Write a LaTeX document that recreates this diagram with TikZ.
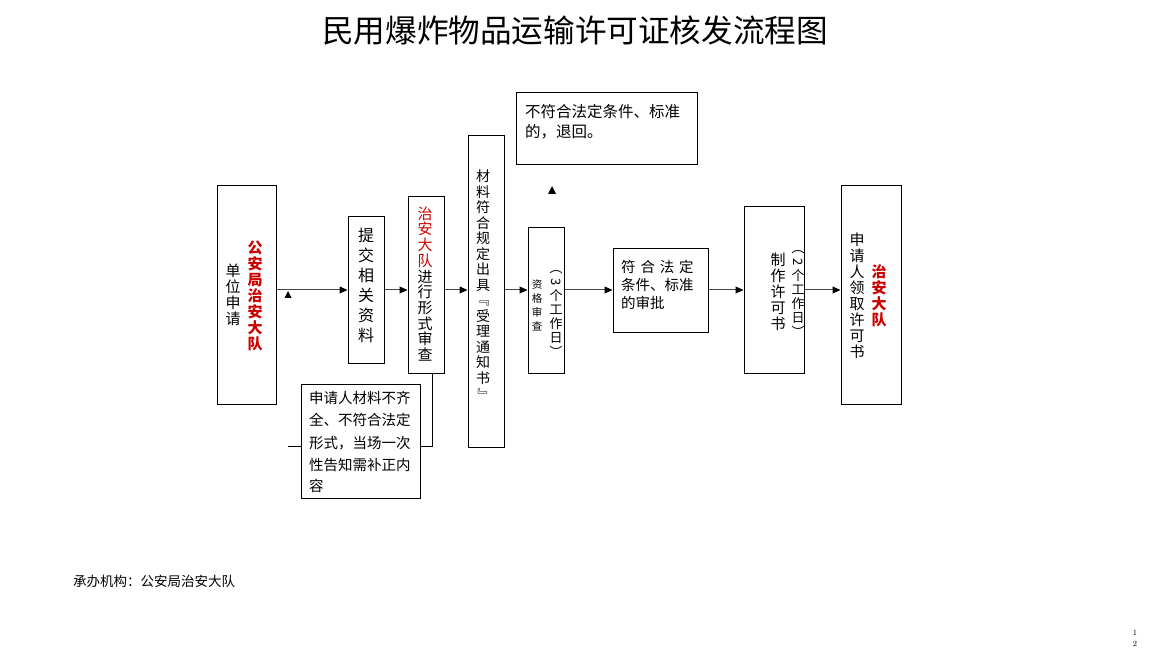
\documentclass[tikz,border=0pt]{standalone}
\usepackage{fontspec}
\usepackage{graphicx}
\newfontfamily\cjk{Noto Sans CJK SC}
\usetikzlibrary{arrows.meta}
\definecolor{redtxt}{RGB}{204,0,0}
\definecolor{linegray}{RGB}{70,70,70}
\newcommand\Rd[1]{\textcolor{redtxt}{#1}}
\newcommand\fs[2]{\cjk\fontsize{#1}{#2}\selectfont}
\newcommand\Rot[1]{\rotatebox[origin=c]{-90}{#1}}
\begin{document}
\begin{tikzpicture}[x=1pt,y=-1pt,
  box/.style={draw=black, line width=1pt, inner sep=0pt},
  flow/.style={draw=linegray, line width=1pt, -{Triangle[length=8pt,width=7pt,color=black,fill=black]}},
  vt/.style={align=center, inner sep=0pt, text=black},
  ht/.style={anchor=west, inner sep=0pt, text=black},
  joinline/.style={draw=black, line width=1pt}]
\path[use as bounding box] (0,0) rectangle (1152,663);
% title
\node[inner sep=0pt, font=\fs{31.6}{34}] (title) at (575,31) {民用爆炸物品运输许可证核发流程图};
% boxes
\node[box, minimum width=59, minimum height=218] (b1) at (246.5,295) {};
\node[box, minimum width=36, minimum height=146] (b2) at (366,290) {};
\node[box, minimum width=36, minimum height=176] (b3) at (426,285) {};
\node[box, minimum width=36, minimum height=311] (b4) at (486,291.5) {};
\node[box, minimum width=36, minimum height=145] (b5) at (546,300.5) {};
\node[box, minimum width=95, minimum height=83] (b6) at (660.5,290.5) {};
\node[box, minimum width=60, minimum height=166] (b7) at (774,290) {};
\node[box, minimum width=60, minimum height=218] (b8) at (871,295) {};
\node[box, minimum width=181, minimum height=72] (top) at (606.5,129) {};
\node[box, minimum width=119, minimum height=114] (note) at (360.5,441) {};
% texts in boxes
\node[vt, font=\fs{15}{16}] (t1a) at (233,295) {单\\位\\申\\请};
\node[vt, font={\fs{15}{16}\bfseries}, text=redtxt] (t1b) at (255,296) {公\\安\\局\\治\\安\\大\\队};
\node[vt, font=\fs{16}{20}] (t2) at (366,285) {提\\交\\相\\关\\资\\料};
\node[vt, font=\fs{15}{15.7}] (t3) at (425,284) {\Rd{治}\\\Rd{安}\\\Rd{大}\\\Rd{队}\\进\\行\\形\\式\\审\\查};
\node[vt, font=\fs{14}{15.5}] (t4) at (483,286) {材\\料\\符\\合\\规\\定\\出\\具\\\Rot{『}\\受\\理\\通\\知\\书\\\Rot{』}};
\node[vt, font=\fs{10.5}{14}] (t5a) at (537,305) {资\\格\\审\\查};
\node[vt, font=\fs{13}{14}] (t5b) at (556,310) {\Rot{（}\\\Rot{3}\\个\\工\\作\\日\\\Rot{）}};
\node[ht, font=\fs{14.5}{18}] (t6a) at (621,267) {符\hspace{4.8pt}合\hspace{4.8pt}法\hspace{4.8pt}定};
\node[ht, font=\fs{14.5}{18}] (t6b) at (621,285) {条件、标准};
\node[ht, font=\fs{14.5}{18}] (t6c) at (621,303) {的审批};
\node[vt, font=\fs{15}{16}] (t7a) at (778,292) {制\\作\\许\\可\\书};
\node[vt, font=\fs{13}{14}] (t7b) at (798,290) {\Rot{（}\\\Rot{2}\\个\\工\\作\\日\\\Rot{）}};
\node[vt, font=\fs{15}{16}] (t8a) at (857,296) {申\\请\\人\\领\\取\\许\\可\\书};
\node[vt, font={\fs{15}{16}\bfseries}, text=redtxt] (t8b) at (879,296) {治\\安\\大\\队};
\node[ht, font=\fs{15.5}{20}] (toptxa) at (525,112) {不符合法定条件、标准};
\node[ht, font=\fs{15.5}{20}] (toptxb) at (525,132) {的，退回。};
\node[ht, font=\fs{14.5}{22}] (n1) at (309,398) {申请人材料不齐};
\node[ht, font=\fs{14.5}{22}] (n2) at (309,420) {全、不符合法定};
\node[ht, font=\fs{14.5}{22}] (n3) at (309,443) {形式，当场一次};
\node[ht, font=\fs{14.5}{22}] (n4) at (309,465) {性告知需补正内};
\node[ht, font=\fs{14.5}{22}] (n5) at (309,486) {容};
% flow arrows
\coordinate (row) at (0,290);
\draw[flow] (b1.east |- row) -- (b2.west |- row);
\draw[flow] (b2.east |- row) -- (b3.west |- row);
\draw[flow] (b3.east |- row) -- (b4.west |- row);
\draw[flow] (b4.east |- row) -- (b5.west |- row);
\draw[flow] (b5.east |- row) -- (b6.west |- row);
\draw[flow] (b6.east |- row) -- (b7.west |- row);
\draw[flow] (b7.east |- row) -- (b8.west |- row);
% small markers
\fill[black] (284.5,298) -- (291.5,298) -- (288,291) -- cycle;
\fill[black] (548,194) -- (556,194) -- (552,186) -- cycle;
% return line to note box
\coordinate (c1) at (432,446);
\coordinate (c2) at (288,446);
\draw[joinline] (b3.south -| c1) -- (c1) -- (note.east |- c1);
\draw[joinline] (note.west |- c2) -- (c2);
% footer
\node[ht, font=\fs{13.5}{16}] (org) at (73,581) {承办机构：公安局治安大队};
\node[inner sep=0pt, font=\fontsize{8}{9}\selectfont] (pg1) at (1135,633) {1};
\node[inner sep=0pt, font=\fontsize{8}{9}\selectfont] (pg2) at (1135,644) {2};
\end{tikzpicture}
\end{document}
